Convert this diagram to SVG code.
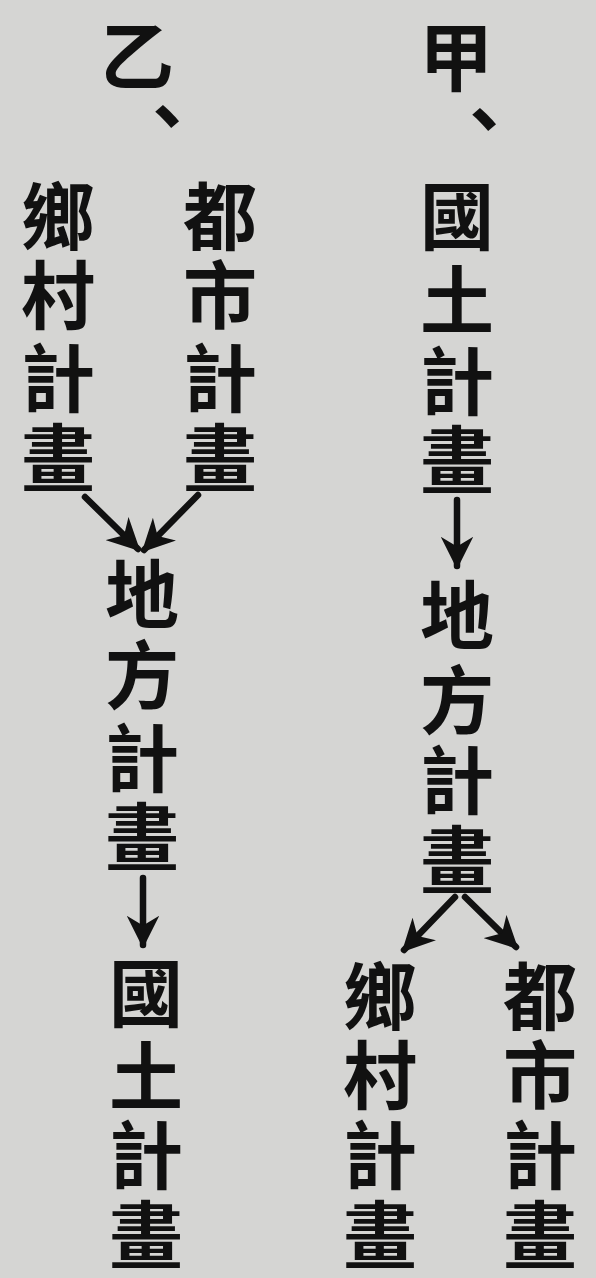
<svg xmlns="http://www.w3.org/2000/svg" width="596" height="1278" viewBox="0 0 596 1278">
<defs>
<style>
.c{font-family:"Noto Sans CJK TC","Noto Sans CJK SC",serif;font-weight:bold;font-size:74px;fill:#111;text-anchor:middle;dominant-baseline:central}
.a{stroke:#111;stroke-width:6.5;fill:none;stroke-linecap:round}
</style>
<marker id="ah" viewBox="0 0 10 10" refX="9" refY="5" markerWidth="5" markerHeight="5" orient="auto" markerUnits="strokeWidth">
<path d="M0,0 L10,5 L0,10 L3,5 Z" fill="#111"/>
</marker>
</defs>
<rect width="596" height="1278" fill="#d5d5d3"/>
<g id="jia">
<text class="c" x="456" y="52">甲</text>
<text class="c" x="484" y="114">、</text>
</g>
<g id="jia-guotu">
<text class="c" x="457" y="211">國</text>
<text class="c" x="457" y="295">土</text>
<text class="c" x="457" y="376">計</text>
<text class="c" x="457" y="455">畫</text>
</g>
<g id="jia-difang">
<text class="c" x="457" y="610">地</text>
<text class="c" x="457" y="695">方</text>
<text class="c" x="457" y="775">計</text>
<text class="c" x="457" y="855">畫</text>
</g>
<g id="jia-xiangcun">
<text class="c" x="380" y="991">鄉</text>
<text class="c" x="380" y="1070">村</text>
<text class="c" x="380" y="1150">計</text>
<text class="c" x="380" y="1230">畫</text>
</g>
<g id="jia-dushi">
<text class="c" x="540" y="991">都</text>
<text class="c" x="540" y="1070">市</text>
<text class="c" x="540" y="1150">計</text>
<text class="c" x="540" y="1230">畫</text>
</g>
<g id="yi">
<text class="c" x="137" y="51">乙</text>
<text class="c" x="167" y="111">、</text>
</g>
<g id="yi-xiangcun">
<text class="c" x="58" y="211">鄉</text>
<text class="c" x="58" y="290">村</text>
<text class="c" x="58" y="373">計</text>
<text class="c" x="58" y="453">畫</text>
</g>
<g id="yi-dushi">
<text class="c" x="220" y="211">都</text>
<text class="c" x="220" y="290">市</text>
<text class="c" x="220" y="373">計</text>
<text class="c" x="220" y="453">畫</text>
</g>
<g id="yi-difang">
<text class="c" x="142" y="589">地</text>
<text class="c" x="142" y="670">方</text>
<text class="c" x="142" y="753">計</text>
<text class="c" x="142" y="832">畫</text>
</g>
<g id="yi-guotu">
<text class="c" x="146" y="988">國</text>
<text class="c" x="146" y="1071">土</text>
<text class="c" x="146" y="1150">計</text>
<text class="c" x="146" y="1230">畫</text>
</g>
<g id="connectors">
<line class="a" x1="457" y1="500" x2="457" y2="566" marker-end="url(#ah)"/>
<line class="a" x1="455" y1="897" x2="404" y2="950" marker-end="url(#ah)"/>
<line class="a" x1="465" y1="897" x2="516" y2="947" marker-end="url(#ah)"/>
<line class="a" x1="85" y1="497" x2="138" y2="549" marker-end="url(#ah)"/>
<line class="a" x1="198" y1="495" x2="144" y2="550" marker-end="url(#ah)"/>
<line class="a" x1="143" y1="878" x2="143" y2="945" marker-end="url(#ah)"/>
</g>
</svg>
